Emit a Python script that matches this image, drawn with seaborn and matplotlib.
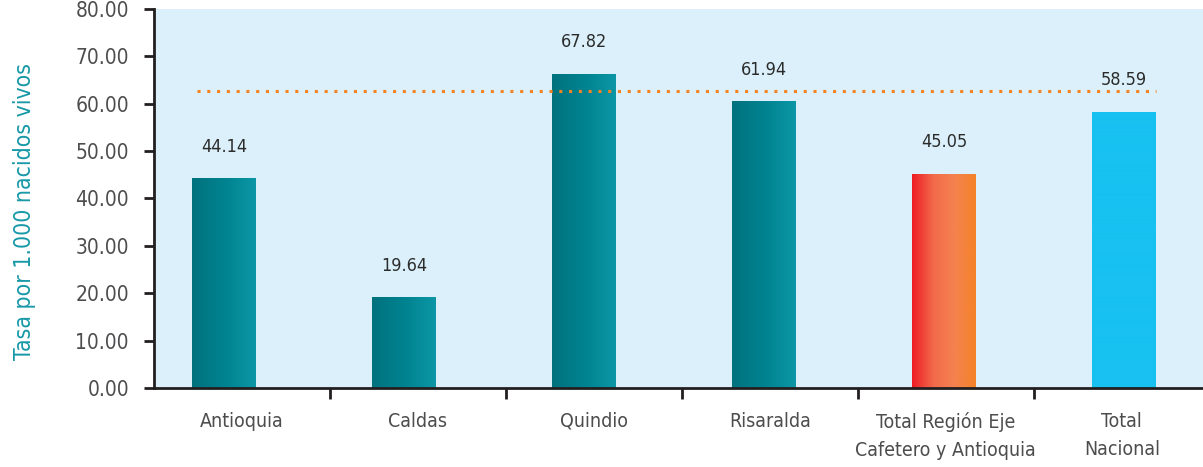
import numpy as np
import pandas as pd
import matplotlib
matplotlib.use('Agg')
import matplotlib.pyplot as plt
from matplotlib.colors import LinearSegmentedColormap
import seaborn as sns

# data
categories = ['Antioquia', 'Caldas', 'Quindio', 'Risaralda',
              'Total Región Eje\nCafetero y Antioquia', 'Total\nNacional']
bar_values = [44.2, 19.0, 66.2, 60.4, 45.1, 58.2]
label_values = [44.14, 19.64, 67.82, 61.94, 45.05, 58.59]
ref_value = 62.6
yticks = np.arange(0, 81, 10)

sns.set_theme(style='white')
plt.rcParams['font.family'] = ['DejaVu Sans']
plt.rcParams['font.stretch'] = 'condensed'

df = pd.DataFrame({'cat': categories, 'val': bar_values})

fig = plt.figure(figsize=(12.03, 4.67), dpi=100)
ax = fig.add_axes([0.128, 0.169, 0.872, 0.812])
ax.set_facecolor('#DBF0FA')

sns.barplot(data=df, x='cat', y='val', width=0.355, color='#00808C',
            linewidth=0, edgecolor='none', ax=ax, zorder=2)

# gradient fills for the bars
teal = LinearSegmentedColormap.from_list('teal', ['#00727E', '#00828F', '#0C97A6'])
warm = LinearSegmentedColormap.from_list('warm', ['#EE1C25', '#F26A4B', '#F4824F', '#F48328'])
cyan = LinearSegmentedColormap.from_list('cyan', ['#17C1F0', '#17C1F0'])
cmaps = [teal, teal, teal, teal, warm, cyan]
grad = np.linspace(0, 1, 256).reshape(1, -1)
for p, cm in zip(ax.patches, cmaps):
    x0, w, h = p.get_x(), p.get_width(), p.get_height()
    ax.imshow(grad, extent=[x0, x0 + w, 0, h], aspect='auto', cmap=cm,
              zorder=3, interpolation='bilinear')

# value labels
for i, v in enumerate(label_values):
    ax.annotate(f'{v:.2f}', (i, bar_values[i]), xytext=(0, 23),
                textcoords='offset points', ha='center', va='center',
                fontsize=13, color='#2B2B2B', zorder=5)

# dotted reference line
half = 0.355 / 2
ax.hlines(ref_value, -0.15, len(categories) - 1 + half, colors='#F58220',
          linestyles=(0, (1, 2.2)), linewidth=2.2, zorder=4)

ax.set_ylim(0, 80)
ax.set_xlim(-0.389, 5.44)
ax.set_yticks(yticks)
ax.set_yticklabels([f'{t:.2f}' for t in yticks], fontsize=15, color='#4D4D4F')

# category boundaries drawn at a slightly narrower pitch than the bars
pitch = 176 / 180
bounds = -0.389 + pitch * np.arange(len(categories) + 1)
ax.set_xticks(bounds[:-1] + pitch / 2)
ax.set_xticklabels(categories, fontsize=14, color='#4D4D4F', linespacing=1.6)
ax.set_xticks(bounds[1:-1], minor=True)
ax.tick_params(axis='x', which='major', length=0, pad=17)
ax.tick_params(axis='x', which='minor', length=8, width=2, color='#231F20',
               direction='out', bottom=True)
ax.tick_params(axis='y', length=7, width=2, color='#231F20', direction='out',
               left=True, pad=11)

ax.set_xlabel('')
ax.set_ylabel('Tasa por 1.000 nacidos vivos', fontsize=16.5, color='#1899A8')
ax.yaxis.set_label_coords(-0.112, 0.465)

for s in ['top', 'right']:
    ax.spines[s].set_visible(False)
for s in ['left', 'bottom']:
    ax.spines[s].set_color('#231F20')
    ax.spines[s].set_linewidth(2)
    ax.spines[s].set_zorder(6)

fig.savefig('out.png', dpi=100)
